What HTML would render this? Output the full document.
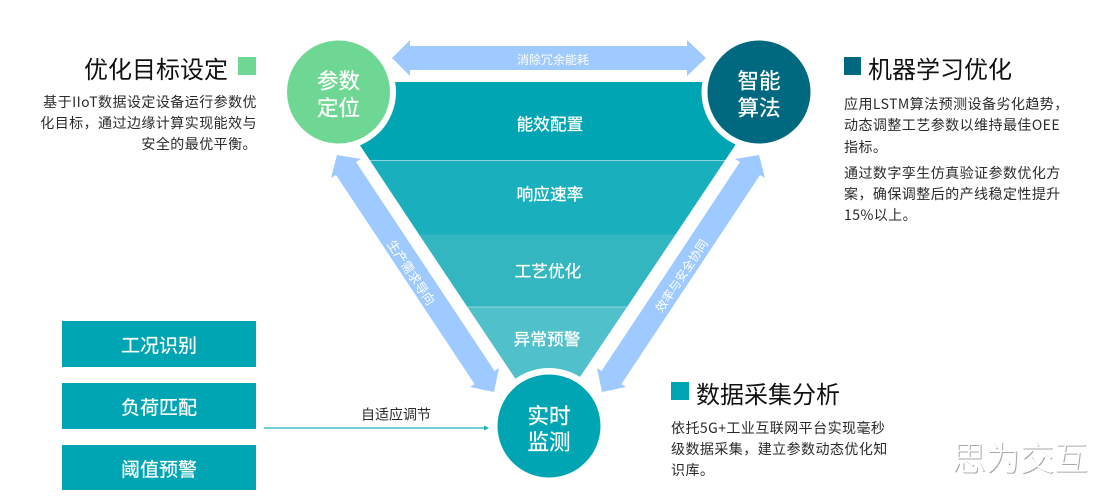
<!DOCTYPE html>
<html lang="zh">
<head>
<meta charset="utf-8">
<style>
html,body{margin:0;padding:0;background:#fff;}
#c{position:relative;width:1107px;height:497px;overflow:hidden;background:#fff;font-family:"Noto Sans CJK SC","Liberation Sans",sans-serif;}
#c svg{position:absolute;left:0;top:0;}
.t{position:absolute;white-space:nowrap;text-align:center;transform:translate(-50%,-50%);color:#fff;line-height:1.2;}
.b{-webkit-text-stroke:.25px #fff;}
.title{position:absolute;white-space:nowrap;font-size:24px;line-height:30px;color:#111;}
.p{position:absolute;white-space:nowrap;font-size:14px;line-height:21.3px;color:#2a2a2a;letter-spacing:.45px;}
.box{position:absolute;left:62px;width:194px;background:#00a5b3;color:#fff;font-size:19px;text-align:center;-webkit-text-stroke:.25px #fff;}
</style>
</head>
<body>
<div id="c">
<svg width="1107" height="497" viewBox="0 0 1107 497">
  <polygon points="318,82 777.4,82 725,160.5 370,160.5" fill="#00a5b3"/>
  <polygon points="370,160.5 725,160.5 675.6,234.5 419,234.5" fill="#1aafbd"/>
  <polygon points="419,234.5 675.6,234.5 627,307 467.4,307" fill="#33b6c0"/>
  <polygon points="467.4,307 627,307 547,426" fill="#50c1cb"/>
  <line x1="370" y1="160.5" x2="725" y2="160.5" stroke="#8fd6dc" stroke-width="1"/>
  <line x1="467.4" y1="307" x2="627" y2="307" stroke="#8fd6dc" stroke-width="1"/>
  <polygon points="392,58 410,40 410,46 687,46 687,40 706,58 687,76 687,70 410,70 410,76" fill="#9ecaff"/>
  <polygon points="337,155 361,159 356,162 494.5,371 499,368 494,392 470,387 474.5,384 336,175 331,178" fill="#9ecaff"/>
  <polygon points="759,155 735,159 740,162 601.5,371 597,368 602,392 626,387 621.5,384 760,175 765,178" fill="#9ecaff"/>
  <circle cx="338.5" cy="92" r="57.5" fill="#fff"/>
  <circle cx="759" cy="92" r="57.5" fill="#fff"/>
  <circle cx="549" cy="426" r="58" fill="#fff"/>
  <circle cx="338.5" cy="92" r="51.5" fill="#6fd794"/>
  <circle cx="759" cy="92" r="51.5" fill="#00687f"/>
  <circle cx="549" cy="426" r="51.5" fill="#00a5b3"/>
  <line x1="264" y1="428" x2="485" y2="428" stroke="#1fb0bb" stroke-width="1.2"/>
  <polygon points="489,428 484,425.5 484,430.5" fill="#1fb0bb"/>
</svg>

<div class="t" style="left:553px;top:59.5px;font-size:12px;">消除冗余能耗</div>
<div class="t" style="left:412px;top:272px;font-size:12.5px;transform:translate(-50%,-50%) rotate(56.5deg);">生产需求导向</div>
<div class="t" style="left:682px;top:276px;font-size:12px;transform:translate(-50%,-50%) rotate(-56.5deg);">效率与安全协同</div>

<div class="t b" style="left:550px;top:123px;font-size:16.7px;">能效配置</div>
<div class="t b" style="left:550px;top:193px;font-size:16.7px;">响应速率</div>
<div class="t b" style="left:548px;top:270px;font-size:16.7px;">工艺优化</div>
<div class="t b" style="left:547px;top:338px;font-size:16.7px;">异常预警</div>

<div class="t b" style="left:338.5px;top:94px;font-size:21.5px;line-height:26.5px;">参数<br>定位</div>
<div class="t b" style="left:759px;top:94px;font-size:21.5px;line-height:26.5px;">智能<br>算法</div>
<div class="t b" style="left:549px;top:428px;font-size:21.5px;line-height:25.5px;">实时<br>监测</div>

<div class="title" style="left:84px;top:52.5px;">优化目标设定</div>
<div style="position:absolute;left:238px;top:57px;width:18px;height:18px;background:#6fd794;"></div>
<div class="p" style="right:850px;top:91.5px;text-align:right;">基于IIoT数据设定设备运行参数优<br>化目标，通过边缘计算实现能效与<br>安全的最优平衡。</div>

<div style="position:absolute;left:844px;top:57px;width:17px;height:18px;background:#00687f;"></div>
<div class="title" style="left:868px;top:52.5px;">机器学习优化</div>
<div class="p" style="left:844px;top:94px;">应用LSTM算法预测设备劣化趋势，<br>动态调整工艺参数以维持最佳OEE<br>指标。</div>
<div class="p" style="left:844px;top:162.5px;">通过数字孪生仿真验证参数优化方<br>案，确保调整后的产线稳定性提升<br>15%以上。</div>

<div style="position:absolute;left:671px;top:382px;width:18px;height:18px;background:#00a5b3;"></div>
<div class="title" style="left:696px;top:377.5px;">数据采集分析</div>
<div class="p" style="left:671px;top:417.5px;">依托5G+工业互联网平台实现毫秒<br>级数据采集，建立参数动态优化知<br>识库。</div>

<div class="box" style="top:321px;height:46px;line-height:48px;">工况识别</div>
<div class="box" style="top:383px;height:46px;line-height:48px;">负荷匹配</div>
<div class="box" style="top:445px;height:45px;line-height:47px;">阈值预警</div>

<div class="t" style="left:396px;top:415px;font-size:14px;color:#2a2a2a;">自适应调节</div>

<div class="t" style="left:1020px;top:457px;font-size:34px;font-weight:300;color:#fff;text-shadow:1px 1px 0 #a8a8a8;">思为交互</div>
</div>
</body>
</html>
